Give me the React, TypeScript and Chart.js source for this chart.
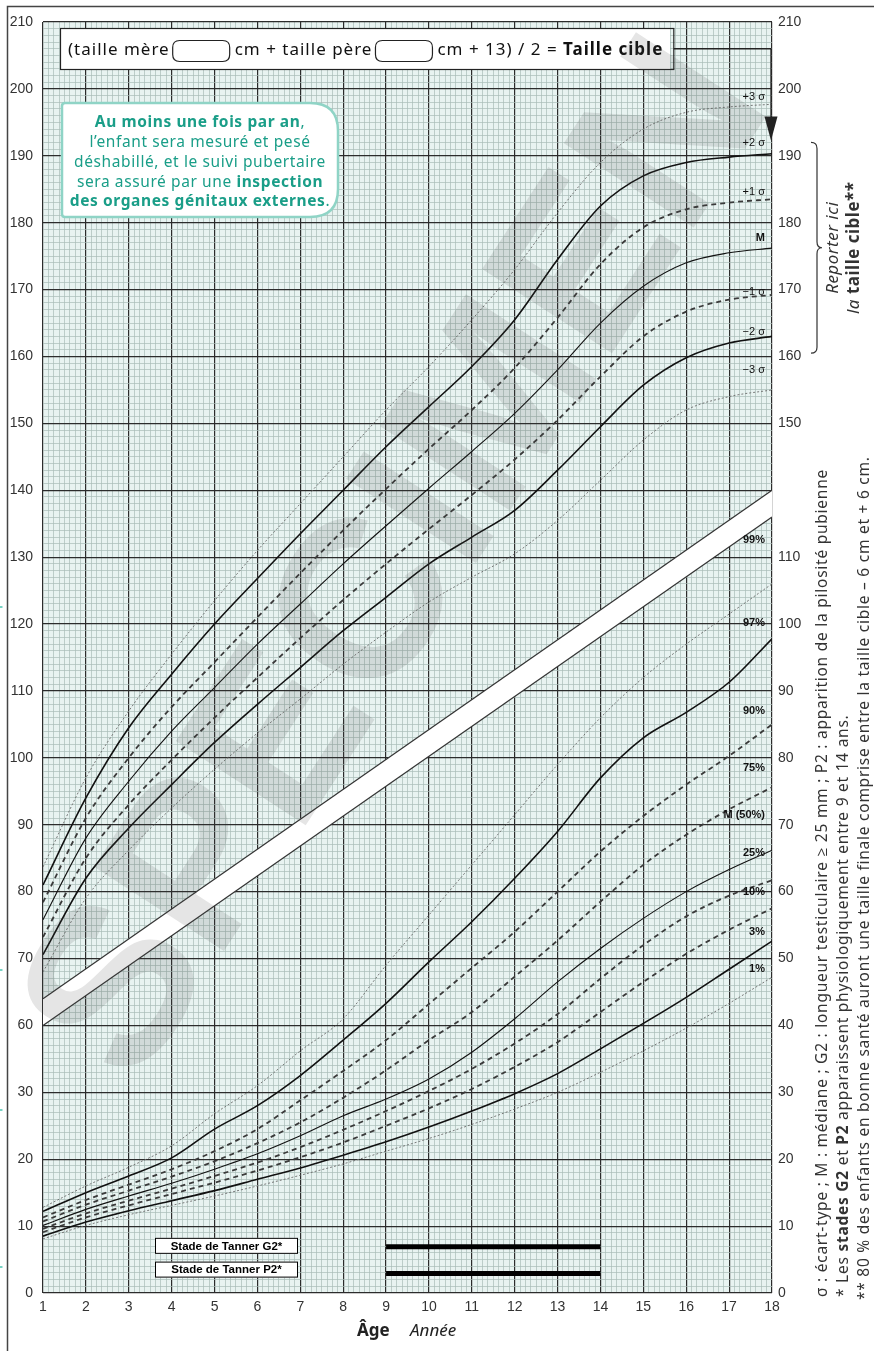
import React, { useEffect, useRef } from "react";
import { Chart, registerables } from "chart.js";

Chart.register(...registerables);

// ---------------- DATA ----------------
const AGES = [1, 2, 3, 4, 5, 6, 7, 8, 9, 10, 11, 12, 13, 14, 15, 16, 17, 18];

// Height (cm) – standard deviation curves
const H_PLUS3 = [83.7, 97, 107, 115.5, 123.5, 131, 138, 145, 152, 158.5, 165.5, 173, 181.5, 189, 194, 196.5, 197.3, 197.7];
const H_PLUS2 = [81, 94, 104.5, 112.5, 120, 126.8, 133.5, 140, 146.5, 152.5, 158.5, 165.5, 174.5, 182.5, 187, 189, 189.8, 190.3];
const H_PLUS1 = [78.4, 91, 100, 107.6, 114.3, 121, 127.6, 134, 140.2, 146.2, 152, 158.3, 165.8, 173.8, 179.3, 182, 183, 183.5];
const H_MEDIAN = [75.8, 88, 96.5, 104, 110.5, 117, 123, 129, 134.7, 140.3, 145.8, 151.5, 158, 165, 170.5, 174, 175.5, 176.2];
const H_MINUS1 = [73.2, 85, 93, 99.7, 106, 112, 117.9, 123.6, 129, 134.2, 139.3, 144.6, 150.5, 157, 163, 166.7, 168.5, 169.2];
const H_MINUS2 = [70.6, 82, 89.5, 96, 102.3, 108, 113.5, 119, 124, 129, 133, 137, 143, 149.5, 155.7, 159.8, 162, 163];
const H_MINUS3 = [68, 79, 86.2, 92.5, 98.3, 103.7, 108.8, 114, 118.8, 123.3, 127, 130.5, 135.5, 141.5, 147.5, 152, 154, 155];

// Weight (kg) – percentile curves
const W_P99 = [12.8, 16, 18.8, 22, 26.8, 31, 36.2, 41, 49, 56.5, 64, 71.5, 79, 86, 92, 97, 101.5, 106];
const W_P97 = [12.2, 15, 17.5, 20.2, 24.5, 28, 32.5, 37.8, 43.3, 49.5, 55.5, 62, 69, 77, 83, 86.8, 91.3, 97.8];
const W_P90 = [11.3, 13.9, 16.2, 18.5, 21.2, 24.5, 28.8, 33.2, 37.8, 43.2, 48.6, 54, 60, 66, 71.3, 76, 80.3, 85];
const W_P75 = [10.7, 13.2, 15.3, 17.4, 19.7, 22.4, 25.5, 29.2, 33.3, 37.8, 42, 47.3, 52.7, 58.5, 64, 68.5, 72.3, 75.6];
const W_P50 = [10.1, 12.5, 14.5, 16.4, 18.5, 20.8, 23.5, 26.5, 29, 32, 36, 41, 46.5, 51.5, 56, 60, 63.3, 66.2];
const W_P25 = [9.6, 11.9, 13.8, 15.6, 17.5, 19.5, 21.8, 24.4, 27.2, 30.2, 33.5, 37.3, 41.7, 47, 52, 56.3, 59.4, 61.7];
const W_P10 = [9.1, 11.3, 13.1, 14.8, 16.5, 18.3, 20.3, 22.5, 25, 27.6, 30.5, 33.8, 37.5, 42, 46.5, 50.7, 54.3, 57.5];
const W_P3 = [8.5, 10.6, 12.3, 13.8, 15.3, 17, 18.7, 20.6, 22.6, 24.8, 27.2, 29.8, 32.8, 36.5, 40.3, 44.2, 48.4, 52.6];
const W_P1 = [8.1, 10.1, 11.7, 13.1, 14.5, 16, 17.6, 19.3, 21.2, 23.1, 25.2, 27.5, 30, 33, 36.2, 39.6, 43.3, 47.2];

// Weight axis shares the grid: weight w is drawn at grid value w + W_OFFSET
const W_OFFSET = 20;

// Separation band (grid values at age 1 and age 18)
const BAND_AGES = [1, 18];
const BAND_LOWER = [60, 136];
const BAND_UPPER = [64, 140];

// Tanner stages (ages) and the weight value where each bar sits
const TANNER_AGES = [9, 14];
const TANNER_LABELS = ["Stade de Tanner G2*", "Stade de Tanner P2*"];
const TANNER_LEVELS = [6.9, 2.9];

// Target height arrow (grid values)
const TARGET_LINE = 206;
const TARGET_TIP = 192.3;

// ---------------- STYLE ----------------
const BG = "#e8f3f1";
const MINOR = "#a9bbb8";
const MAJOR = "#2c2c2c";
const X_DIV = 8;
const TEAL = "#1a9e88";

type Kind = "solid" | "median" | "dash" | "dot";
const SERIES: { data: number[]; weight: boolean; kind: Kind; label: string; bold: boolean; dy: number }[] = [
  { data: H_PLUS3, weight: false, kind: "dot", label: "+3 σ", bold: false, dy: 1.1 },
  { data: H_PLUS2, weight: false, kind: "solid", label: "+2 σ", bold: false, dy: 1.6 },
  { data: H_PLUS1, weight: false, kind: "dash", label: "+1 σ", bold: false, dy: 1.1 },
  { data: H_MEDIAN, weight: false, kind: "median", label: "M", bold: true, dy: 1.5 },
  { data: H_MINUS1, weight: false, kind: "dash", label: "−1 σ", bold: false, dy: 0.4 },
  { data: H_MINUS2, weight: false, kind: "solid", label: "−2 σ", bold: false, dy: 0.7 },
  { data: H_MINUS3, weight: false, kind: "dot", label: "−3 σ", bold: false, dy: 3 },
  { data: W_P99, weight: true, kind: "dot", label: "99%", bold: true, dy: 6.6 },
  { data: W_P97, weight: true, kind: "solid", label: "97%", bold: true, dy: 2.3 },
  { data: W_P90, weight: true, kind: "dash", label: "90%", bold: true, dy: 2 },
  { data: W_P75, weight: true, kind: "dash", label: "75%", bold: true, dy: 2.9 },
  { data: W_P50, weight: true, kind: "median", label: "M (50%)", bold: true, dy: 5.2 },
  { data: W_P25, weight: true, kind: "dash", label: "25%", bold: true, dy: 4.1 },
  { data: W_P10, weight: true, kind: "dash", label: "10%", bold: true, dy: 2.5 },
  { data: W_P3, weight: true, kind: "solid", label: "3%", bold: true, dy: 1.3 },
  { data: W_P1, weight: true, kind: "dot", label: "1%", bold: true, dy: 1.2 },
];

const kindStyle = (k: Kind) => {
  if (k === "solid") return { borderColor: "#111", borderWidth: 1.6, borderDash: [] as number[] };
  if (k === "median") return { borderColor: "#111", borderWidth: 1.1, borderDash: [] as number[] };
  if (k === "dash") return { borderColor: "#3a3a3a", borderWidth: 1.8, borderDash: [5, 4] };
  return { borderColor: "#6a6a6a", borderWidth: 0.9, borderDash: [2, 2] };
};

const isInt = (v: number) => Math.abs(v - Math.round(v)) < 1e-6;

const leftLabel = (v: number) => {
  if (!isInt(v)) return "";
  const r = Math.round(v);
  if (r % 10 !== 0) return "";
  if (r >= 60) return String(r);
  if (r <= 50) return String(r - W_OFFSET);
  return "";
};
const rightLabel = (v: number) => {
  if (!isInt(v)) return "";
  const r = Math.round(v);
  if (r % 10 !== 0) return "";
  if (r >= 150) return String(r);
  if (r <= 130) return String(r - W_OFFSET);
  return "";
};

type Seg = { t: string; f: string };
function setSpacing(ctx: any, s: string) {
  try { ctx.letterSpacing = s; } catch (e) { /* ignore */ }
}
function segWidth(ctx: CanvasRenderingContext2D, segs: Seg[]) {
  let w = 0;
  for (const s of segs) {
    ctx.font = s.f;
    w += ctx.measureText(s.t).width;
  }
  return w;
}
function drawSegs(ctx: CanvasRenderingContext2D, segs: Seg[], x: number, y: number, align: "left" | "center") {
  const total = segWidth(ctx, segs);
  let cx = align === "center" ? x - total / 2 : x;
  ctx.textAlign = "left";
  for (const s of segs) {
    ctx.font = s.f;
    ctx.fillText(s.t, cx, y);
    cx += ctx.measureText(s.t).width;
  }
  return cx;
}
function roundRect(ctx: CanvasRenderingContext2D, x: number, y: number, w: number, h: number, r: number[]) {
  const [tl, tr, br, bl] = r;
  ctx.beginPath();
  ctx.moveTo(x + tl, y);
  ctx.lineTo(x + w - tr, y);
  ctx.quadraticCurveTo(x + w, y, x + w, y + tr);
  ctx.lineTo(x + w, y + h - br);
  ctx.quadraticCurveTo(x + w, y + h, x + w - br, y + h);
  ctx.lineTo(x + bl, y + h);
  ctx.quadraticCurveTo(x, y + h, x, y + h - bl);
  ctx.lineTo(x, y + tl);
  ctx.quadraticCurveTo(x, y, x + tl, y);
  ctx.closePath();
}

const SANS = '"Noto Sans", "Open Sans", sans-serif';
const ARIAL = '"Liberation Sans", Arial, sans-serif';

const decor = {
  id: "decor",
  beforeDraw(chart: any) {
    const { ctx, chartArea: a } = chart;
    ctx.save();
    ctx.fillStyle = "#fff";
    ctx.fillRect(0, 0, chart.width, chart.height);
    ctx.fillStyle = BG;
    ctx.fillRect(a.left, a.top, a.right - a.left, a.bottom - a.top);
    ctx.restore();
  },
  beforeDatasetsDraw(chart: any) {
    const { ctx, chartArea: a, scales } = chart;
    const x = scales.x, y = scales.y;
    ctx.save();
    ctx.beginPath();
    ctx.rect(a.left, a.top, a.right - a.left, a.bottom - a.top);
    ctx.clip();
    ctx.beginPath();
    ctx.moveTo(x.getPixelForValue(BAND_AGES[0]), y.getPixelForValue(BAND_LOWER[0]));
    ctx.lineTo(x.getPixelForValue(BAND_AGES[1]), y.getPixelForValue(BAND_LOWER[1]));
    ctx.lineTo(x.getPixelForValue(BAND_AGES[1]), y.getPixelForValue(BAND_UPPER[1]));
    ctx.lineTo(x.getPixelForValue(BAND_AGES[0]), y.getPixelForValue(BAND_UPPER[0]));
    ctx.closePath();
    ctx.fillStyle = "#fff";
    ctx.fill();
    ctx.strokeStyle = "#333";
    ctx.lineWidth = 1.2;
    for (const arr of [BAND_LOWER, BAND_UPPER]) {
      ctx.beginPath();
      ctx.moveTo(x.getPixelForValue(BAND_AGES[0]), y.getPixelForValue(arr[0]));
      ctx.lineTo(x.getPixelForValue(BAND_AGES[1]), y.getPixelForValue(arr[1]));
      ctx.stroke();
    }
    ctx.restore();
  },
  afterDatasetsDraw(chart: any) {
    const { ctx, chartArea: a, scales } = chart;
    const x = scales.x, y = scales.y;
    ctx.save();

    // Tanner bars + labels
    TANNER_LEVELS.forEach((lv, i) => {
      const py = y.getPixelForValue(lv + W_OFFSET);
      ctx.strokeStyle = "#000";
      ctx.lineWidth = 5;
      ctx.beginPath();
      ctx.moveTo(x.getPixelForValue(TANNER_AGES[0]), py);
      ctx.lineTo(x.getPixelForValue(TANNER_AGES[1]), py);
      ctx.stroke();
      const by = py - (i === 1 ? 4 : 1);
      ctx.fillStyle = "#fff";
      ctx.fillRect(155, by - 8, 143, 16);
      ctx.strokeStyle = "#000";
      ctx.lineWidth = 1;
      ctx.strokeRect(155.5, by - 7.5, 142, 15);
      ctx.fillStyle = "#000";
      ctx.font = `bold 11.5px ${ARIAL}`;
      ctx.textAlign = "center";
      ctx.textBaseline = "middle";
      ctx.fillText(TANNER_LABELS[i], 226.5, by + 0.5);
    });

    // curve labels
    ctx.textAlign = "right";
    ctx.textBaseline = "middle";
    ctx.fillStyle = "#111";
    SERIES.forEach((s) => {
      const end = s.data[s.data.length - 1] + (s.weight ? W_OFFSET : 0);
      ctx.font = `${s.bold ? "bold " : ""}11px ${ARIAL}`;
      ctx.fillText(s.label, a.right - 7, y.getPixelForValue(end + s.dy));
    });

    // Target height formula box
    const fy = 55;
    ctx.textBaseline = "alphabetic";
    ctx.fillStyle = "#fff";
    ctx.fillRect(60, 28, 610, 42);
    ctx.fillStyle = "#111";
    setSpacing(ctx, "1px");
    const F = `17px ${SANS}`;
    let cx = drawSegs(ctx, [{ t: "(taille mère", f: F }], 68, fy, "left");
    const box = (bx: number) => {
      ctx.strokeStyle = "#222";
      ctx.lineWidth = 1.2;
      roundRect(ctx, bx, 40.5, 57, 21, [7, 7, 7, 7]);
      ctx.stroke();
      ctx.fillStyle = "#111";
    };
    box(cx + 3);
    cx = drawSegs(ctx, [{ t: "cm + taille père", f: F }], cx + 65, fy, "left");
    box(cx + 3);
    cx = drawSegs(ctx, [{ t: "cm + 13) / 2 = ", f: F }, { t: "Taille cible", f: `bold 17px ${SANS}` }], cx + 65, fy, "left");
    setSpacing(ctx, "0px");
    const boxRight = cx + 10;
    ctx.strokeStyle = "#222";
    ctx.lineWidth = 1.2;
    ctx.strokeRect(60.5, 28.5, boxRight - 60, 41);

    // arrow to target
    const ly = y.getPixelForValue(TARGET_LINE);
    const ax = x.getPixelForValue(18) - 1;
    const tip = y.getPixelForValue(TARGET_TIP);
    ctx.strokeStyle = "#222";
    ctx.lineWidth = 1.3;
    ctx.beginPath();
    ctx.moveTo(boxRight + 0.5, ly);
    ctx.lineTo(ax, ly);
    ctx.lineTo(ax, tip - 20);
    ctx.stroke();
    ctx.fillStyle = "#222";
    ctx.beginPath();
    ctx.moveTo(ax, tip);
    ctx.lineTo(ax - 6.5, tip - 24);
    ctx.lineTo(ax + 6.5, tip - 24);
    ctx.closePath();
    ctx.fill();

    // Green information box
    ctx.fillStyle = "#fff";
    roundRect(ctx, 62, 103, 276, 114, [3, 28, 28, 3]);
    ctx.fill();
    ctx.strokeStyle = "#8fd4c6";
    ctx.lineWidth = 2.5;
    ctx.stroke();
    ctx.fillStyle = TEAL;
    ctx.textBaseline = "middle";
    setSpacing(ctx, "0.6px");
    const G = `15.5px ${SANS}`;
    const GB = `bold 15.5px ${SANS}`;
    const lines: Seg[][] = [
      [{ t: "Au moins une fois par an", f: GB }, { t: ",", f: G }],
      [{ t: "l’enfant sera mesuré et pesé", f: G }],
      [{ t: "déshabillé, et le suivi pubertaire", f: G }],
      [{ t: "sera assuré par une ", f: G }, { t: "inspection", f: GB }],
      [{ t: "des organes génitaux externes", f: GB }, { t: ".", f: G }],
    ];
    lines.forEach((l, i) => drawSegs(ctx, l, 200, 123 + i * 19.7, "center"));
    setSpacing(ctx, "0px");

    ctx.restore();
  },
  afterDraw(chart: any) {
    const { ctx, scales } = chart;
    const y = scales.y;
    ctx.save();

    // Brace
    const bx = 811;
    const top = y.getPixelForValue(192);
    const bot = y.getPixelForValue(160.5);
    const mid = (top + bot) / 2;
    ctx.strokeStyle = "#333";
    ctx.lineWidth = 1.2;
    ctx.beginPath();
    ctx.moveTo(bx, top);
    ctx.quadraticCurveTo(bx + 6, top, bx + 6, top + 6);
    ctx.lineTo(bx + 6, mid - 6);
    ctx.quadraticCurveTo(bx + 6, mid, bx + 11, mid);
    ctx.quadraticCurveTo(bx + 6, mid, bx + 6, mid + 6);
    ctx.lineTo(bx + 6, bot - 6);
    ctx.quadraticCurveTo(bx + 6, bot, bx, bot);
    ctx.stroke();

    // rotated texts
    ctx.fillStyle = "#333";
    ctx.textBaseline = "middle";
    const rot = (px: number, py: number, segs: Seg[], align: "left" | "center") => {
      ctx.save();
      ctx.translate(px, py);
      ctx.rotate(-Math.PI / 2);
      drawSegs(ctx, segs, 0, 0, align);
      ctx.restore();
    };
    setSpacing(ctx, "0.5px");
    rot(833, mid, [{ t: "Reporter ici", f: `italic 17px ${SANS}` }], "center");
    rot(854, mid, [{ t: "la ", f: `italic 17px ${SANS}` }, { t: "taille cible**", f: `bold 17px ${SANS}` }], "center");
    setSpacing(ctx, "0.75px");
    const N = `15.5px ${SANS}`;
    const NB = `bold 15.5px ${SANS}`;
    rot(823, 1297, [{ t: "σ : écart-type ; M : médiane ; G2 : longueur testiculaire ≥ 25 mm ; P2 : apparition de la pilosité pubienne", f: N }], "left");
    rot(844, 1297, [
      { t: "* Les ", f: N }, { t: "stades G2", f: NB }, { t: " et ", f: N }, { t: "P2", f: NB },
      { t: " apparaissent physiologiquement entre 9 et 14 ans.", f: N },
    ], "left");
    rot(865, 1300, [{ t: "** 80 % des enfants en bonne santé auront une taille finale comprise entre la taille cible – 6 cm et + 6 cm.", f: N }], "left");
    setSpacing(ctx, "0px");

    // Axis title
    ctx.fillStyle = "#222";
    ctx.textBaseline = "middle";
    drawSegs(ctx, [{ t: "Âge", f: `bold 17px ${SANS}` }], 357, 1331, "left");
    drawSegs(ctx, [{ t: "Année", f: `italic 17px ${SANS}` }], 410, 1331, "left");

    // Frame
    ctx.strokeStyle = "#444";
    ctx.lineWidth = 1.5;
    ctx.beginPath();
    ctx.moveTo(7.5, chart.height);
    ctx.lineTo(7.5, 6.5);
    ctx.lineTo(chart.width, 6.5);
    ctx.stroke();

    // small crop marks on the left edge
    ctx.strokeStyle = "#4cc3b0";
    ctx.lineWidth = 1.5;
    for (const my of [607, 970, 1110, 1267]) {
      ctx.beginPath();
      ctx.moveTo(0, my);
      ctx.lineTo(2.5, my);
      ctx.stroke();
    }

    // Watermark
    ctx.translate(402, 563);
    ctx.rotate(-0.995);
    ctx.font = `bold 225px ${ARIAL}`;
    ctx.textAlign = "center";
    ctx.textBaseline = "middle";
    ctx.fillStyle = "rgba(70,70,70,0.14)";
    ctx.fillText("SPECIMEN", 0, 0);
    ctx.restore();
  },
};

export default function App() {
  const ref = useRef<HTMLCanvasElement>(null);
  useEffect(() => {
    document.body.style.margin = "0";
    const canvas = ref.current!;
    const datasets = SERIES.map((s) => ({
      data: AGES.map((age, i) => ({ x: age, y: s.data[i] + (s.weight ? W_OFFSET : 0) })),
      ...kindStyle(s.kind),
      pointRadius: 0,
      fill: false,
      cubicInterpolationMode: "monotone" as const,
    }));
    const xTicks: { value: number }[] = [];
    for (let i = 0; i <= 17 * X_DIV; i++) xTicks.push({ value: 1 + i / X_DIV });
    const yTicks: { value: number }[] = [];
    for (let v = 20; v <= 210; v++) yTicks.push({ value: v });
    const yTens: { value: number }[] = [];
    for (let v = 20; v <= 210; v += 10) yTens.push({ value: v });

    const chart = new Chart(canvas, {
      type: "line",
      data: { datasets },
      options: {
        responsive: false,
        animation: false,
        layout: { padding: { top: 22, left: 0, right: 0, bottom: 0 } },
        plugins: { legend: { display: false }, tooltip: { enabled: false } },
        scales: {
          x: {
            type: "linear",
            min: 1,
            max: 18,
            afterBuildTicks: (s: any) => { s.ticks = xTicks.map((t) => ({ ...t })); },
            afterFit: (s: any) => { s.height = 58; },
            border: { display: false },
            grid: {
              drawTicks: false,
              color: (c: any) => (isInt(c.tick.value) ? MAJOR : MINOR),
              lineWidth: (c: any) => (isInt(c.tick.value) ? 1.2 : 0.7),
            },
            ticks: {
              autoSkip: false,
              maxRotation: 0,
              padding: 6,
              color: "#333",
              font: { family: ARIAL, size: 14 },
              callback: (v: any) => (isInt(Number(v)) ? String(Math.round(Number(v))) : ""),
            },
          },
          y: {
            type: "linear",
            position: "left",
            min: 20,
            max: 210,
            afterBuildTicks: (s: any) => { s.ticks = yTicks.map((t) => ({ ...t })); },
            afterFit: (s: any) => { s.width = 43; },
            border: { display: false },
            grid: {
              drawTicks: false,
              color: (c: any) => (Math.round(c.tick.value) % 10 === 0 ? MAJOR : MINOR),
              lineWidth: (c: any) => (Math.round(c.tick.value) % 10 === 0 ? 1.2 : 0.7),
            },
            ticks: {
              autoSkip: false,
              padding: 10,
              color: "#333",
              font: { family: ARIAL, size: 14 },
              callback: (v: any) => leftLabel(Number(v)),
            },
          },
          y2: {
            type: "linear",
            position: "right",
            min: 20,
            max: 210,
            afterBuildTicks: (s: any) => { s.ticks = yTens.map((t) => ({ ...t })); },
            afterFit: (s: any) => { s.width = 102; },
            border: { display: false },
            grid: { display: false, drawTicks: false },
            ticks: {
              autoSkip: false,
              padding: 6,
              color: "#333",
              font: { family: ARIAL, size: 14 },
              callback: (v: any) => rightLabel(Number(v)),
            },
          },
        },
      } as any,
      plugins: [decor],
    });
    return () => chart.destroy();
  }, []);
  return <canvas ref={ref} width={874} height={1351} style={{ display: "block", width: 874, height: 1351 }} />;
}
